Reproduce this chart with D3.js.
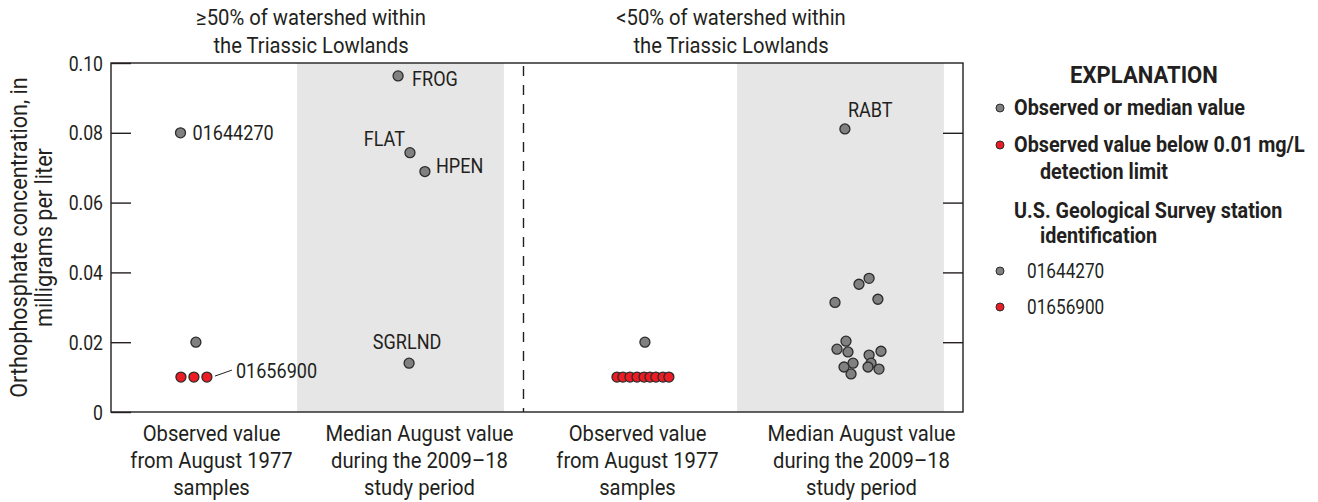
<!DOCTYPE html>
<html>
<head>
<meta charset="utf-8">
<script src="https://cdn.jsdelivr.net/npm/d3@7"></script>
<style>
  body { margin: 0; background: #fff; }
  svg text { font-family: Roboto, "Liberation Sans", sans-serif; fill: #231f20; }
</style>
</head>
<body>
<div class="chart"></div>
<script>
// orthophosphate, August: observed 1977 vs median 2009-18

var groups = ["obsHigh", "medHigh", "obsLow", "medLow"];
var groupLabels = [
  ["Observed value", "from August 1977", "samples"],
  ["Median August value", "during the 2009\u201318", "study period"],
  ["Observed value", "from August 1977", "samples"],
  ["Median August value", "during the 2009\u201318", "study period"]
];
var headers = [
  ["\u226550% of watershed within", "the Triassic Lowlands"],
  ["<50% of watershed within", "the Triassic Lowlands"]
];
var yTicks = [0, 0.02, 0.04, 0.06, 0.08, 0.10];

// each point: group, value (mg/L), jitter (fraction of group width), below detection limit, label
var obsHigh = [
  {g: "obsHigh", v: 0.080, j: 0.000, bdl: false, label: "01644270"},
  {g: "obsHigh", v: 0.020, j: 0.070, bdl: false},
  {g: "obsHigh", v: 0.010, j: 0.002, bdl: true},
  {g: "obsHigh", v: 0.010, j: 0.061, bdl: true},
  {g: "obsHigh", v: 0.010, j: 0.120, bdl: true, label: "01656900"}
];
var medHigh = [
  {g: "medHigh", v: 0.0963, j: -0.011, label: "FROG"},
  {g: "medHigh", v: 0.0743, j: 0.043, label: "FLAT"},
  {g: "medHigh", v: 0.0689, j: 0.111, label: "HPEN"},
  {g: "medHigh", v: 0.0140, j: 0.039, label: "SGRLND"}
];
var obsLow = [
  {g: "obsLow", v: 0.020, j: 0.111, bdl: false},
  {g: "obsLow", v: 0.010, j: -0.016, bdl: true},
  {g: "obsLow", v: 0.010, j: 0.011, bdl: true},
  {g: "obsLow", v: 0.010, j: 0.043, bdl: true},
  {g: "obsLow", v: 0.010, j: 0.075, bdl: true},
  {g: "obsLow", v: 0.010, j: 0.107, bdl: true},
  {g: "obsLow", v: 0.010, j: 0.134, bdl: true},
  {g: "obsLow", v: 0.010, j: 0.161, bdl: true},
  {g: "obsLow", v: 0.010, j: 0.193, bdl: true},
  {g: "obsLow", v: 0.010, j: 0.220, bdl: true}
];
var medLow = [
  {g: "medLow", v: 0.0811, j: 0.020, label: "RABT"},
  {g: "medLow", v: 0.0383, j: 0.130},
  {g: "medLow", v: 0.0366, j: 0.084},
  {g: "medLow", v: 0.0323, j: 0.170},
  {g: "medLow", v: 0.0314, j: -0.025},
  {g: "medLow", v: 0.0203, j: 0.025},
  {g: "medLow", v: 0.0180, j: -0.016},
  {g: "medLow", v: 0.0172, j: 0.034},
  {g: "medLow", v: 0.0174, j: 0.184},
  {g: "medLow", v: 0.0163, j: 0.130},
  {g: "medLow", v: 0.0140, j: 0.057},
  {g: "medLow", v: 0.0129, j: 0.016},
  {g: "medLow", v: 0.0140, j: 0.139},
  {g: "medLow", v: 0.0129, j: 0.125},
  {g: "medLow", v: 0.0123, j: 0.175},
  {g: "medLow", v: 0.0109, j: 0.048}
];

var legendItems = [
  {text: ["Observed or median value"], bdl: false},
  {text: ["Observed value below 0.01 mg/L", "detection limit"], bdl: true}
];
var stationItems = [
  {text: "01644270", bdl: false},
  {text: "01656900", bdl: true}
];

var grayFill = "#808080", redFill = "#ed1c24", dotStroke = "#2b2b2b";

var width = 1318, height = 502;
var plot = {left: 111, right: 963, top: 63, bottom: 412};

var svg = d3.select(".chart")
  .append("svg")
    .attr("width", width)
    .attr("height", height);

// text helper: condensed look via horizontal scaling
function addText(parent, x, y, lines, o) {
  o = o || {};
  var sq = o.sq || 0.92;
  var rot = o.rotate ? " rotate(" + o.rotate + ")" : "";
  var g = parent.append("g")
    .attr("transform", "translate(" + x + "," + y + ")" + rot + " scale(" + sq + ",1)");
  var t = g.append("text")
    .attr("text-anchor", o.anchor || "start")
    .style("font-size", (o.size || 22) + "px")
    .style("font-weight", o.bold ? "bold" : "normal");
  lines.forEach(function(l, k) {
    t.append("tspan")
      .attr("x", (o.indent && k > 0) ? o.indent / sq : 0)
      .attr("y", k * (o.lh || 27))
      .attr("dy", o.dy || 0)
      .text(l);
  });
  return g;
}

var y = d3.scaleLinear()
  .domain([0, 0.10])
  .range([plot.bottom, plot.top]);

var x = d3.scaleBand()
  .domain(groups)
  .range([70.5, 950.5]);

function px(d) { return x(d.g) + x.bandwidth() / 2 + d.j * x.bandwidth(); }

// shaded bands for median groups
svg.selectAll(".band")
  .data(["medHigh", "medLow"])
  .enter().append("rect")
    .attr("x", function(d) { return x(d) + x.bandwidth() * 0.03; })
    .attr("width", x.bandwidth() * 0.94)
    .attr("y", plot.top)
    .attr("height", plot.bottom - plot.top)
    .attr("fill", "#e6e6e6");

// dashed divider
svg.append("line")
  .attr("x1", 523.5).attr("x2", 523.5)
  .attr("y1", plot.top + 3).attr("y2", plot.bottom)
  .attr("stroke", "#231f20")
  .attr("stroke-width", 1.4)
  .attr("stroke-dasharray", "10,9");

// frame
svg.append("rect")
  .attr("x", plot.left).attr("y", plot.top)
  .attr("width", plot.right - plot.left)
  .attr("height", plot.bottom - plot.top)
  .attr("fill", "none")
  .attr("stroke", "#231f20")
  .attr("stroke-width", 1.4);

// left axis
var yAxis = svg.append("g")
  .attr("transform", "translate(" + plot.left + ",0)")
  .call(d3.axisRight(y).tickValues(yTicks).tickSize(20).tickFormat(""));
yAxis.select(".domain").remove();
yAxis.selectAll("line").attr("stroke", "#231f20").attr("stroke-width", 1.4);

yTicks.forEach(function(d) {
  addText(svg, plot.left - 8, y(d), [d === 0 ? "0" : d3.format(".2f")(d)],
    {anchor: "end", dy: "0.36em", size: 21, sq: 0.84});
});

// right axis ticks
var yAxisR = svg.append("g")
  .attr("transform", "translate(" + plot.right + ",0)")
  .call(d3.axisLeft(y).tickValues(yTicks.slice(1, -1)).tickSize(20).tickFormat(""));
yAxisR.select(".domain").remove();
yAxisR.selectAll("line").attr("stroke", "#231f20").attr("stroke-width", 1.4);

// y axis title
addText(svg, 27, (plot.top + plot.bottom) / 2,
  ["Orthophosphate concentration, in", "milligrams per liter"],
  {anchor: "middle", rotate: -90, size: 23.5, lh: 25});

// headers
var headerX = [311, 731];
headers.forEach(function(lines, i) {
  addText(svg, headerX[i], 25, lines, {anchor: "middle", lh: 28});
});

// group labels
var labelShift = [31, 19, 17, 21];
groups.forEach(function(g, i) {
  addText(svg, x(g) + x.bandwidth() / 2 + labelShift[i], 441, groupLabels[i],
    {anchor: "middle", lh: 27});
});

// points
var allPoints = obsHigh.concat(medHigh, obsLow, medLow);
svg.selectAll(".dot")
  .data(allPoints)
  .enter().append("circle")
    .attr("cx", px)
    .attr("cy", function(d) { return y(d.v); })
    .attr("r", 5)
    .attr("fill", function(d) { return d.bdl ? redFill : grayFill; })
    .attr("stroke", dotStroke)
    .attr("stroke-width", 1.3);

// point labels
var labelPos = {
  "01644270": {dx: 12, dy: 0, anchor: "start"},
  "01656900": {dx: 29, dy: -7, anchor: "start"},
  "FROG":     {dx: 14, dy: 3, anchor: "start"},
  "FLAT":     {dx: -5, dy: -14, anchor: "end"},
  "HPEN":     {dx: 11, dy: -6, anchor: "start"},
  "SGRLND":   {dx: -2, dy: -22, anchor: "middle"},
  "RABT":     {dx: 3, dy: -20, anchor: "start"}
};
allPoints.filter(function(d) { return d.label; }).forEach(function(d) {
  var p = labelPos[d.label];
  addText(svg, px(d) + p.dx, y(d.v) + p.dy, [d.label],
    {anchor: p.anchor, dy: "0.36em", size: 21, sq: 0.86});
});

// leader line for 01656900
var lead = obsHigh[4];
svg.append("line")
  .attr("x1", px(lead) + 8).attr("y1", y(lead.v) - 1)
  .attr("x2", px(lead) + 25).attr("y2", y(lead.v) - 7)
  .attr("stroke", "#231f20")
  .attr("stroke-width", 1);

// legend
var lg = svg.append("g");
addText(lg, 1144, 83, ["EXPLANATION"], {anchor: "middle", size: 24, bold: true});

var legendY = [108, 145];
legendItems.forEach(function(item, i) {
  lg.append("circle")
    .attr("cx", 1000).attr("cy", legendY[i]).attr("r", 4)
    .attr("fill", item.bdl ? redFill : grayFill)
    .attr("stroke", dotStroke).attr("stroke-width", 1);
  addText(lg, 1014, legendY[i] + 7, item.text, {bold: true, size: 21.5, indent: 26, lh: 27});
});

addText(lg, 1014, 218, ["U.S. Geological Survey station", "identification"],
  {bold: true, size: 21.5, indent: 26, lh: 25});

var stationY = [271, 307];
stationItems.forEach(function(item, i) {
  lg.append("circle")
    .attr("cx", 1000).attr("cy", stationY[i]).attr("r", 4)
    .attr("fill", item.bdl ? redFill : grayFill)
    .attr("stroke", dotStroke).attr("stroke-width", 1);
  addText(lg, 1027, stationY[i] + 7, [item.text], {size: 20, sq: 0.86});
});
</script>
</body>
</html>
